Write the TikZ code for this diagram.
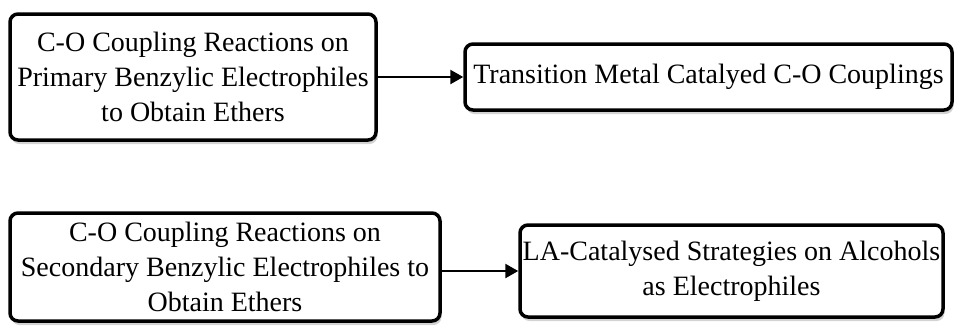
\documentclass[tikz,border=0pt]{standalone}
\usepackage{fontspec}
\setmainfont{Liberation Serif}
\usetikzlibrary{shadows,arrows.meta}
\begin{document}
\begin{tikzpicture}[x=1pt,y=-1pt,
  box/.style={draw=black, line width=3.5pt, rounded corners=8pt, fill=white,
    align=center, inner sep=0pt, font=\fontsize{28}{35}\selectfont,
    drop shadow={opacity=0.35, shadow xshift=1.5pt, shadow yshift=-4pt}},
  conn/.style={line width=2.5pt, -{Triangle[length=13pt,width=14pt]}}]
\useasboundingbox (0,0) rectangle (958,325);
\node[box, minimum width=366pt, minimum height=126pt] (a) at (193,77)
  {C-O Coupling Reactions on\\Primary Benzylic Electrophiles\\to Obtain Ethers};
\node[box, minimum width=487pt, minimum height=66pt] (b) at (708.5,77)
  {Transition Metal Catalyed C-O Couplings};
\node[box, minimum width=430pt, minimum height=108pt] (c) at (225,267)
  {C-O Coupling Reactions on\\Secondary Benzylic Electrophiles to\\Obtain Ethers};
\node[box, minimum width=423pt, minimum height=92pt] (d) at (731.5,271)
  {LA-Catalysed Strategies on Alcohols\\as Electrophiles};
\draw[conn] (a.east) -- (b.west);
\draw[conn] (c.east |- d.west) -- (d.west);
\end{tikzpicture}
\end{document}
